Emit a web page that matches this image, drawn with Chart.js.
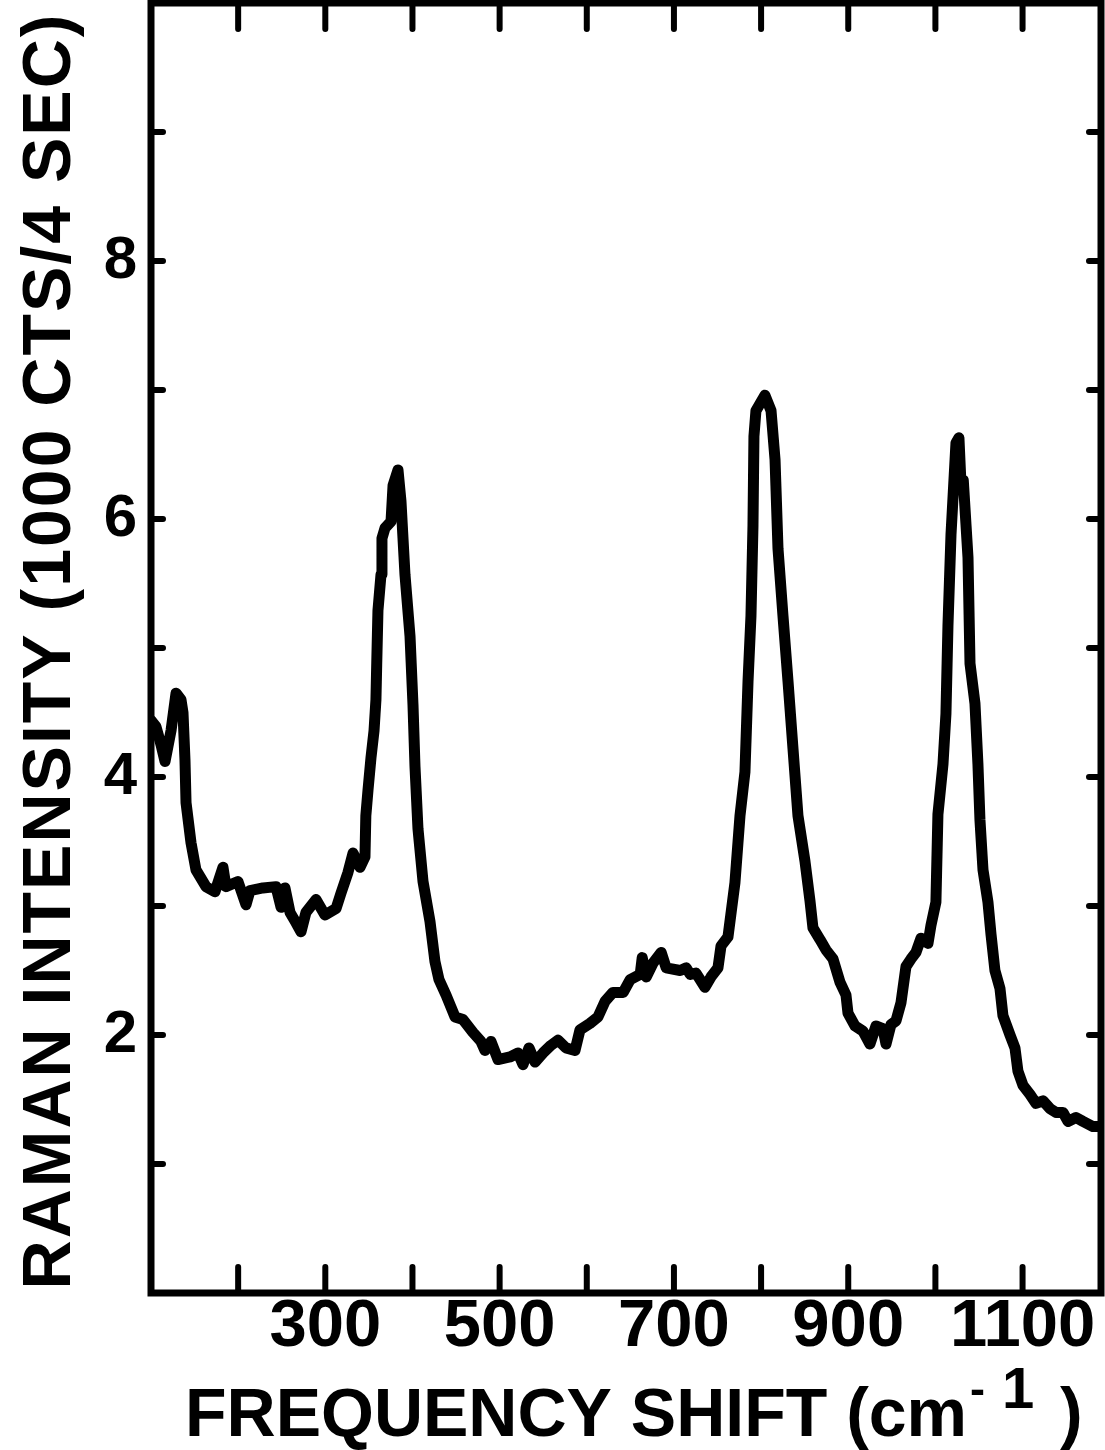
<!DOCTYPE html>
<html>
<head>
<meta charset="utf-8">
<title>Raman spectrum</title>
<script src="https://cdn.jsdelivr.net/npm/chart.js@4.4.1/dist/chart.umd.min.js"></script>
<style>
    html, body { margin: 0; padding: 0; background: #fff; }
    canvas { display: block; }
</style>
</head>
<body>
<canvas id="spectrum" width="1105" height="1450"></canvas>
<script>
// Frequency shift (cm-1)
const shift = [
    100, 105.7, 111.5, 116.1, 123, 128.7, 134.4, 136.7, 139, 140.2,
    145.9, 151.6, 163.1, 173.4, 182.6, 186, 199.8, 209, 213.6, 228.5,
    243.4, 249.2, 253.7, 259.5, 266.4, 272.1, 277.8, 289.3, 299.6, 312.3,
    318, 326, 331.8, 339.8, 345.5, 346.5, 349, 352.4, 355.9, 358.1,
    359, 360.4, 363.9, 365, 368.5, 375.4, 377.7, 383.4, 386.8, 391.4,
    397.2, 400.6, 402.9, 406.3, 412.1, 420.1, 425.8, 430.4, 438.5, 448.8,
    458, 469.4, 478.6, 483.2, 490.1, 498.1, 511.9, 521.1, 526.8, 533.7,
    540.6, 549.7, 558.9, 567, 576.1, 586.5, 592.2, 603.7, 612.8, 620.9,
    630, 641.8, 649.8, 661.3, 663.6, 668.2, 676.2, 685.4, 691.1, 707.2,
    714.1, 718.7, 725.3, 735.6, 742.5, 750.5, 754, 762, 770, 775.8,
    781.5, 785, 788.4, 790.7, 791.8, 794.1, 804.4, 811.4, 816, 819.4,
    825.1, 830.9, 836.6, 842.3, 850.3, 856.1, 859.5, 867.6, 874.4, 882.5,
    890.5, 897.4, 899.7, 907.7, 916.9, 924.9, 931.8, 939.8, 943.3, 949,
    954.8, 960.5, 966.2, 972, 977.7, 983.4, 991.5, 994.9, 1000.6, 1002.9,
    1008.7, 1012.1, 1014.4, 1017.9, 1023.6, 1027, 1029.5, 1032, 1037.4, 1039.7,
    1045.4, 1048.8, 1051.1, 1054.6, 1060.3, 1063.8, 1068.3, 1074.1, 1077.5, 1085.6,
    1091.3, 1094.7, 1100.5, 1108.5, 1115.4, 1123.4, 1131.4, 1138.3, 1146.4, 1152.1,
    1161.3, 1169.3, 1180.8, 1190
]

// Raman intensity (1000 counts / 4 s)
const intensity = [
    4.44, 4.39, 4.25, 4.12, 4.36, 4.65, 4.60, 4.50, 4.13, 3.80,
    3.49, 3.28, 3.15, 3.11, 3.30, 3.15, 3.19, 3.01, 3.12, 3.14,
    3.15, 2.99, 3.14, 2.95, 2.87, 2.80, 2.95, 3.05, 2.93, 2.98,
    3.10, 3.26, 3.41, 3.30, 3.38, 3.70, 3.90, 4.15, 4.36, 4.60,
    4.88, 5.29, 5.57, 5.85, 5.93, 5.98, 6.26, 6.38, 6.14, 5.57,
    5.09, 4.56, 4.08, 3.60, 3.19, 2.88, 2.57, 2.43, 2.31, 2.14,
    2.12, 2.02, 1.95, 1.88, 1.95, 1.81, 1.83, 1.86, 1.77, 1.90,
    1.79, 1.86, 1.92, 1.96, 1.90, 1.88, 2.04, 2.09, 2.14, 2.26,
    2.33, 2.33, 2.43, 2.47, 2.60, 2.45, 2.56, 2.64, 2.52, 2.50,
    2.52, 2.47, 2.48, 2.37, 2.45, 2.52, 2.69, 2.76, 3.18, 3.70,
    4.04, 4.74, 5.25, 5.95, 6.64, 6.84, 6.96, 6.84, 6.46, 5.77,
    5.25, 4.74, 4.22, 3.70, 3.35, 3.04, 2.83, 2.74, 2.66, 2.59,
    2.41, 2.31, 2.17, 2.07, 2.03, 1.93, 2.07, 2.05, 1.93, 2.08,
    2.11, 2.25, 2.53, 2.59, 2.64, 2.75, 2.71, 2.85, 3.03, 3.71,
    4.10, 4.49, 5.17, 5.88, 6.59, 6.63, 6.25, 6.30, 5.70, 4.88,
    4.57, 4.10, 3.67, 3.28, 3.03, 2.78, 2.50, 2.36, 2.15, 2.00,
    1.90, 1.72, 1.61, 1.54, 1.47, 1.49, 1.43, 1.40, 1.40, 1.33,
    1.36, 1.33, 1.29, 1.29
]

// Tick marks and the ones that carry a label
const xTicks = [200, 300, 400, 500, 600, 700, 800, 900, 1000, 1100]
const xLabels = [300, 500, 700, 900, 1100]
const yTicks = [1, 2, 3, 4, 5, 6, 7, 8, 9]
const yLabels = [2, 4, 6, 8]

const family = '"Liberation Sans", Arial, Helvetica, sans-serif'

// Box, inward ticks and axis titles
const frame = {
    id: 'frame',
    afterDraw(chart) {
        const { ctx, chartArea: a, scales: { x, y } } = chart
        ctx.save()
        ctx.strokeStyle = '#000'
        ctx.fillStyle = '#000'

        ctx.lineWidth = 6
        ctx.lineCap = 'round'
        ctx.beginPath()
        xTicks.forEach(v => {
            const px = x.getPixelForValue(v)
            ctx.moveTo(px, a.bottom)
            ctx.lineTo(px, a.bottom - 26)
            ctx.moveTo(px, a.top)
            ctx.lineTo(px, a.top + 26)
        })
        yTicks.forEach(v => {
            const py = y.getPixelForValue(v)
            ctx.moveTo(a.left, py)
            ctx.lineTo(a.left + 12, py)
            ctx.moveTo(a.right, py)
            ctx.lineTo(a.right - 12, py)
        })
        ctx.stroke()

        ctx.lineWidth = 7
        ctx.lineCap = 'butt'
        ctx.strokeRect(a.left, a.top, a.right - a.left, a.bottom - a.top)

        // x title with superscript -1
        ctx.textBaseline = 'alphabetic'
        ctx.textAlign = 'left'
        ctx.font = `bold 68px ${family}`
        const main = 'FREQUENCY SHIFT (cm'
        const x0 = 185
        ctx.fillText(main, x0, 1436)
        const end = x0 + ctx.measureText(main).width
        ctx.font = `bold 45px ${family}`
        ctx.fillText('-', end + 3, 1404)
        ctx.font = `bold 58px ${family}`
        ctx.textAlign = 'center'
        ctx.fillText('1', end + 51, 1408)
        ctx.font = `bold 68px ${family}`
        ctx.textAlign = 'left'
        ctx.fillText(')', end + 93, 1436)

        // y title, reading upwards
        ctx.translate(70, 651)
        ctx.rotate(-Math.PI / 2)
        ctx.font = `bold 68px ${family}`
        ctx.letterSpacing = '2px'
        ctx.textAlign = 'center'
        ctx.fillText('RAMAN INTENSITY (1000 CTS/4 SEC)', 0, 0)
        ctx.restore()
    }
}

new Chart(document.getElementById('spectrum'), {
    type: 'line',
    data: {
        datasets: [{
            data: shift.map((s, i) => ({ x: s, y: intensity[i] })),
            borderColor: '#000',
            borderWidth: 11,
            borderJoinStyle: 'round',
            borderCapStyle: 'round',
            pointRadius: 0,
            tension: 0,
            fill: false
        }]
    },
    options: {
        responsive: false,
        devicePixelRatio: 1,
        animation: false,
        layout: { padding: { left: 0, right: 4, top: 3, bottom: 0 } },
        plugins: {
            legend: { display: false },
            tooltip: { enabled: false }
        },
        scales: {
            x: {
                type: 'linear',
                min: 100,
                max: 1190,
                afterBuildTicks: s => { s.ticks = xTicks.map(v => ({ value: v })) },
                afterFit: s => {
                    s.height = 157
                    s.paddingLeft = 0
                    s.paddingRight = 0
                },
                grid: { display: false, drawTicks: false, tickLength: 0 },
                border: { display: false },
                ticks: {
                    autoSkip: false,
                    maxRotation: 0,
                    padding: 1,
                    color: '#000',
                    font: { family: family, size: 67, weight: 'bold', lineHeight: 1 },
                    callback: v => xLabels.includes(v) ? String(v) : ''
                }
            },
            y: {
                type: 'linear',
                min: 0,
                max: 10,
                afterBuildTicks: s => { s.ticks = yTicks.map(v => ({ value: v })) },
                afterFit: s => {
                    s.width = 151
                    s.paddingTop = 0
                    s.paddingBottom = 0
                },
                grid: { display: false, drawTicks: false, tickLength: 0 },
                border: { display: false },
                ticks: {
                    padding: 14,
                    color: '#000',
                    font: { family: family, size: 60, weight: 'bold', lineHeight: 1 },
                    callback: v => yLabels.includes(v) ? String(v) : ''
                }
            }
        }
    },
    plugins: [frame]
})
</script>
</body>
</html>
